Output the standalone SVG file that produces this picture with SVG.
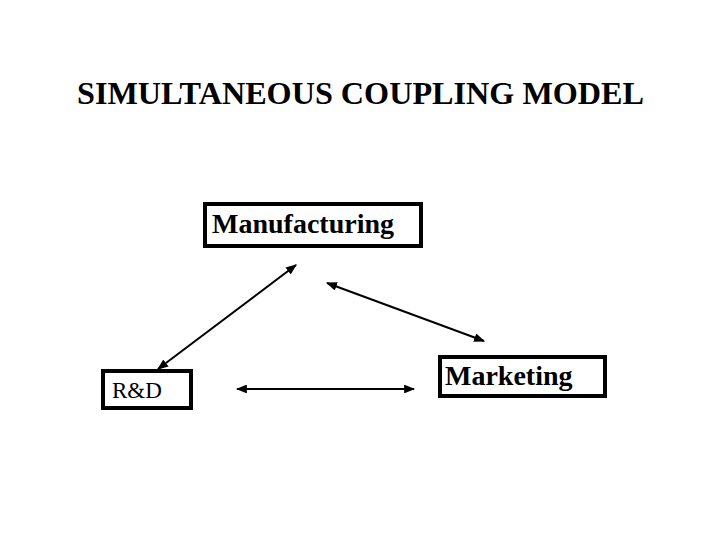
<svg xmlns="http://www.w3.org/2000/svg" width="720" height="540" viewBox="0 0 720 540">
<style>
.box{fill:#fff;stroke:#000;stroke-width:4}
.lbl{font-family:"Liberation Serif","Times New Roman",serif;fill:#000}
.conn{stroke:#000;stroke-width:2;fill:none;marker-start:url(#ah);marker-end:url(#ah)}
</style>
<defs>
<marker id="ah" viewBox="0 0 10 8" refX="9" refY="4" markerWidth="5.5" markerHeight="4.4" orient="auto-start-reverse" markerUnits="strokeWidth">
<path d="M0,0 L10,4 L0,8 Z" fill="#000"/>
</marker>
</defs>
<rect width="720" height="540" fill="#fff"/>
<text id="title" class="lbl" x="77" y="104" font-size="32" font-weight="bold" textLength="567" lengthAdjust="spacingAndGlyphs">SIMULTANEOUS COUPLING MODEL</text>
<g id="manufacturing">
<rect class="box" x="205" y="204" width="216" height="42"/>
<text class="lbl" x="212" y="233" font-size="28" font-weight="bold">Manufacturing</text>
</g>
<g id="rnd">
<rect class="box" x="103" y="371" width="88" height="37"/>
<text class="lbl" x="112" y="398" font-size="23">R&amp;D</text>
</g>
<g id="marketing">
<rect class="box" x="440" y="357" width="165" height="39"/>
<text class="lbl" x="445" y="385" font-size="28" font-weight="bold">Marketing</text>
</g>
<g id="connectors">
<line class="conn" x1="296" y1="265" x2="158" y2="369"/>
<line class="conn" x1="327" y1="283" x2="484" y2="341"/>
<line class="conn" x1="237" y1="389" x2="414" y2="389"/>
</g>
</svg>
